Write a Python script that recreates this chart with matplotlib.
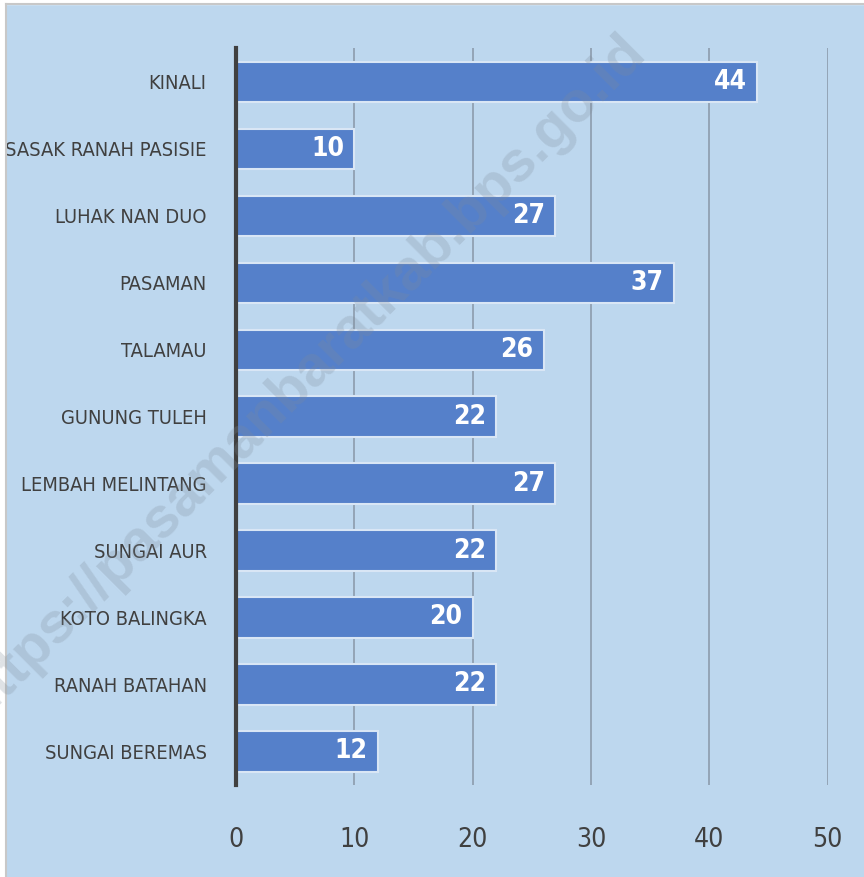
import matplotlib.pyplot as plt
from matplotlib import font_manager
from matplotlib.patches import Rectangle

# Data
categories = ["KINALI", "SASAK RANAH PASISIE", "LUHAK NAN DUO", "PASAMAN", "TALAMAU",
              "GUNUNG TULEH", "LEMBAH MELINTANG", "SUNGAI AUR", "KOTO BALINGKA",
              "RANAH BATAHAN", "SUNGAI BEREMAS"]
values = [44, 10, 27, 37, 26, 22, 27, 22, 20, 22, 12]
xticks = [0, 10, 20, 30, 40, 50]

# look for a narrow / condensed face (the original uses Calibri-like narrow text)
narrow = [f for f in font_manager.fontManager.ttflist
          if f.style == "normal" and ("narrow" in f.name.lower() or "condensed" in f.name.lower()
              or str(f.stretch) in ("condensed", "semi-condensed", "extra-condensed"))]
reg = [f for f in narrow if f.weight in (400, "normal", "regular", "book")]
bold = [f for f in narrow if f.weight in (700, "bold")]

if reg:
    fp = font_manager.FontProperties(fname=reg[0].fname)
else:
    fp = font_manager.FontProperties(family="Liberation Sans")
if bold:
    fpb = font_manager.FontProperties(fname=bold[0].fname)
else:
    fpb = font_manager.FontProperties(family="Liberation Sans", weight="bold")

bg = "#BDD7EE"
fig = plt.figure(figsize=(8.64, 8.77), dpi=100, facecolor=bg)

# size labels so the longest one is about as wide as in the original
r = fig.canvas.get_renderer()
fp.set_size(20)
t = fig.text(0, 0, categories[1], fontproperties=fp)
w = t.get_window_extent(r).width
t.remove()
size = min(21, 20 * 202 / w)
fp.set_size(size)
fpt = fp.copy()
fpt.set_size(19)
fpb.set_size(19)

ax = fig.add_axes([0.273, 0.105, 0.685, 0.84], facecolor=bg)

y = range(len(categories))
ax.barh(y, values, height=0.6, color="#5580CA", edgecolor="#D9E6F5", linewidth=1.5, zorder=3)
for yi, v in zip(y, values):
    ax.text(v - 0.85, yi, str(v), ha="right", va="center", color="white",
            fontproperties=fpb, zorder=4)

ax.set_ylim(len(categories) - 0.5, -0.5)
ax.set_xlim(0, 50)
ax.set_xticks(xticks)
ax.set_xticklabels([str(t) for t in xticks], fontproperties=fpt)
ax.set_yticks(list(y))
ax.set_yticklabels(categories, fontproperties=fp)
ax.tick_params(axis="both", length=0, colors="#404040")
ax.tick_params(axis="x", pad=30)
ax.tick_params(axis="y", pad=21)
ax.grid(axis="x", color="#8C9CAC", linewidth=1.2, zorder=1)
for s in ["top", "right", "bottom"]:
    ax.spines[s].set_visible(False)
ax.spines["left"].set_color("#404040")
ax.spines["left"].set_linewidth(3)
ax.spines["left"].set_zorder(5)

# white margin + grey frame at the top-left like the screenshot
fig.patches.append(Rectangle((0, 0), 0.006, 1, transform=fig.transFigure, color="white", zorder=0))
fig.patches.append(Rectangle((0, 0.996), 1, 0.004, transform=fig.transFigure, color="white", zorder=0))
fig.lines.append(plt.Line2D([0.007, 0.007], [0, 0.995], transform=fig.transFigure, color="#C8C8C8", lw=1.5))
fig.lines.append(plt.Line2D([0.007, 1], [0.995, 0.995], transform=fig.transFigure, color="#C8C8C8", lw=1.5))

# watermark
fig.text(0.35, 0.57, "https://pasamanbaratkab.bps.go.id", rotation=45,
         ha="center", va="center", fontsize=41, fontweight="bold", color="#7F8C99", alpha=0.25,
         family="Liberation Sans", zorder=10)

fig.savefig("out.png", dpi=100, facecolor=bg)
